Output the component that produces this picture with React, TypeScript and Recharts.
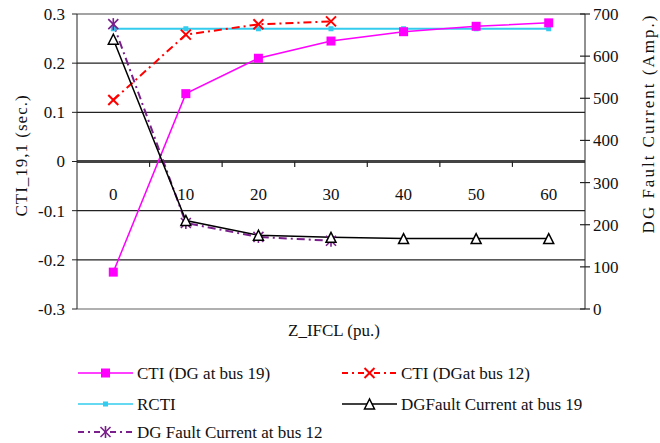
import React from "react";
import {
  LineChart,
  Line,
  XAxis,
  YAxis,
  CartesianGrid,
  ReferenceLine,
  ReferenceDot,
} from "recharts";

const zValues = [0, 10, 20, 30, 40, 50, 60];
const cti19 = [-0.225, 0.138, 0.21, 0.245, 0.264, 0.275, 0.282];
const cti12 = [0.125, 0.258, 0.279, 0.285];
const rcti = [0.27, 0.27, 0.27, 0.27, 0.27, 0.27, 0.27];
const dgFault19 = [640, 210, 175, 170, 167, 167, 167];
const dgFault12 = [676, 204, 171, 162];
const leftTicks = [-0.3, -0.2, -0.1, 0, 0.1, 0.2, 0.3];
const rightTicks = [0, 100, 200, 300, 400, 500, 600, 700];
const bandEdges = [5, 15, 25, 35, 45, 55];

const data = zValues.map((z, i) => ({
  z,
  cti19: cti19[i],
  cti12: cti12[i],
  rcti: rcti[i],
  dg19: dgFault19[i],
  dg12: dgFault12[i],
}));

const FONT = "Liberation Serif";
const TXT = "#111";

const MAGENTA = "#ff00ff";
const RED = "#ff0000";
const CYAN = "#33ccee";
const BLACK = "#000";
const PURPLE = "#7a1f8c";

const textStyle = { fontFamily: FONT, fontSize: 17 };

const squareDot = (size: number, color: string) => (p: any) => {
  if (p.cy == null || p.value == null) return <g key={p.key} />;
  return (
    <rect
      key={p.key}
      x={p.cx - size / 2}
      y={p.cy - size / 2}
      width={size}
      height={size}
      fill={color}
    />
  );
};

const crossDot = (p: any) => {
  if (p.cy == null || p.value == null) return <g key={p.key} />;
  const s = 5;
  return (
    <g key={p.key} stroke={RED} strokeWidth={2}>
      <line x1={p.cx - s} y1={p.cy - s} x2={p.cx + s} y2={p.cy + s} />
      <line x1={p.cx - s} y1={p.cy + s} x2={p.cx + s} y2={p.cy - s} />
    </g>
  );
};

const triangleDot = (p: any) => {
  if (p.cy == null || p.value == null) return <g key={p.key} />;
  const s = 5;
  return (
    <polygon
      key={p.key}
      points={`${p.cx},${p.cy - s} ${p.cx - s},${p.cy + s} ${p.cx + s},${p.cy + s}`}
      fill="#fff"
      stroke={BLACK}
      strokeWidth={1.5}
    />
  );
};

const starDot = (p: any) => {
  if (p.cy == null || p.value == null) return <g key={p.key} />;
  const s = 5;
  return (
    <g key={p.key} stroke={PURPLE} strokeWidth={1.6}>
      <line x1={p.cx - s} y1={p.cy - s} x2={p.cx + s} y2={p.cy + s} />
      <line x1={p.cx - s} y1={p.cy + s} x2={p.cx + s} y2={p.cy - s} />
      <line x1={p.cx} y1={p.cy - s - 1} x2={p.cx} y2={p.cy + s + 1} />
    </g>
  );
};

const LeftTick = (p: any) => (
  <text x={p.x} y={p.y} dy="0.35em" textAnchor="end" fill={TXT} style={textStyle}>
    {String(p.payload.value)}
  </text>
);

const RightTick = (p: any) => (
  <g>
    <line x1={p.x - 13} y1={p.y} x2={p.x - 3} y2={p.y} stroke="#222" strokeWidth={1.2} />
    <text x={p.x} y={p.y} dy="0.35em" textAnchor="start" fill={TXT} style={textStyle}>
      {p.payload.value}
    </text>
  </g>
);

// axis title drawn inside the axis viewBox
const AxisTitle = (p: any) => {
  const vb = p.viewBox;
  const cx = vb.x + vb.width / 2 + (p.dx || 0);
  const cy = vb.y + vb.height / 2 + (p.dy || 0);
  const rot = p.rotate ? `rotate(-90 ${cx} ${cy})` : undefined;
  return (
    <text
      x={cx}
      y={cy}
      textAnchor="middle"
      dominantBaseline="central"
      transform={rot}
      fill={TXT}
      style={{ ...textStyle, letterSpacing: p.spacing || 0 }}
    >
      {p.text}
    </text>
  );
};

const XLabel = (p: any) => {
  const vb = p.viewBox;
  return (
    <text
      x={vb.x + vb.width / 2 + 3}
      y={vb.y + vb.height / 2 + 4}
      textAnchor="middle"
      dominantBaseline="central"
      fill={TXT}
      style={textStyle}
    >
      {p.text}
    </text>
  );
};

const legendItems = [
  { name: "CTI (DG at bus 19)", color: MAGENTA, dash: undefined, marker: "square", x: 78, w: 55, y: 373 },
  { name: "CTI (DGat bus 12)", color: RED, dash: "6 4 2 4", marker: "cross", x: 342, w: 55, y: 373 },
  { name: "RCTI", color: CYAN, dash: undefined, marker: "small", x: 78, w: 55, y: 404 },
  { name: "DGFault Current at bus 19", color: BLACK, dash: undefined, marker: "triangle", x: 342, w: 55, y: 404 },
  { name: "DG Fault Current at bus 12", color: PURPLE, dash: "6 4 2 4", marker: "star", x: 78, w: 55, y: 432 },
];

const legendMarker = (m: string, cx: number, cy: number) => {
  const p = { cx, cy, key: "m", value: 1 };
  if (m === "square") return squareDot(9, MAGENTA)(p);
  if (m === "small") return squareDot(5, CYAN)(p);
  if (m === "cross") return crossDot(p);
  if (m === "triangle") return triangleDot(p);
  return starDot(p);
};

export default function App() {
  return (
    <div style={{ position: "absolute", left: 0, top: 0, width: 660, height: 443, background: "#fff" }}>
      <LineChart
        width={660}
        height={343}
        data={data}
        margin={{ top: 14, right: 0, bottom: 0, left: 0 }}
      >
        <CartesianGrid horizontal vertical={false} stroke="#222" strokeWidth={1.2} yAxisId="left" />
        <XAxis
          dataKey="z"
          type="number"
          domain={[-5, 65]}
          ticks={zValues}
          tick={false}
          tickLine={false}
          axisLine={false}
          height={34}
          label={<XLabel text="Z_IFCL (pu.)" />}
        />
        <YAxis
          yAxisId="left"
          domain={[-0.3, 0.3]}
          ticks={leftTicks}
          width={77}
          tickSize={5}
          tickMargin={7}
          stroke="#222"
          tick={<LeftTick />}
          label={<AxisTitle text="CTI_19,1 (sec.)" rotate dx={-17} dy={-6} spacing={1} />}
        />
        <YAxis
          yAxisId="right"
          orientation="right"
          domain={[0, 700]}
          ticks={rightTicks}
          width={75}
          tickSize={0}
          tickMargin={8}
          tickLine={false}
          stroke="#222"
          tick={<RightTick />}
          label={<AxisTitle text="DG Fault Current (Amp.)" rotate dx={26} dy={-38} spacing={2} />}
        />
        <ReferenceLine yAxisId="left" y={0.3} stroke="#aaa" strokeWidth={1.5} />
        <ReferenceLine yAxisId="left" y={-0.3} stroke="#bbb" strokeWidth={1.5} />
        <ReferenceLine yAxisId="left" y={0} stroke="#444" strokeWidth={3} />
        {bandEdges.map((b) => (
          <ReferenceLine
            key={b}
            yAxisId="left"
            segment={[
              { x: b, y: 0 },
              { x: b, y: -0.011 },
            ]}
            stroke="#222"
            strokeWidth={1.2}
          />
        ))}
        {zValues.map((z) => (
          <ReferenceDot
            key={"lbl" + z}
            yAxisId="left"
            x={z}
            y={-0.068}
            r={0}
            fill="none"
            stroke="none"
            label={(lp: any) => (
              <text
                x={lp.viewBox.x + (lp.viewBox.width || 0) / 2}
                y={lp.viewBox.y + (lp.viewBox.height || 0) / 2}
                textAnchor="middle"
                dominantBaseline="central"
                fill={TXT}
                style={textStyle}
              >
                {String(z)}
              </text>
            )}
          />
        ))}
        <Line
          yAxisId="left"
          dataKey="rcti"
          stroke={CYAN}
          strokeWidth={2}
          dot={squareDot(5, CYAN)}
          isAnimationActive={false}
        />
        <Line
          yAxisId="left"
          dataKey="cti19"
          stroke={MAGENTA}
          strokeWidth={1.5}
          dot={squareDot(9, MAGENTA)}
          isAnimationActive={false}
        />
        <Line
          yAxisId="left"
          dataKey="cti12"
          stroke={RED}
          strokeWidth={2}
          strokeDasharray="8 4 2 4"
          dot={crossDot}
          isAnimationActive={false}
        />
        <Line
          yAxisId="right"
          dataKey="dg12"
          stroke={PURPLE}
          strokeWidth={2}
          strokeDasharray="8 4 2 4"
          dot={starDot}
          isAnimationActive={false}
        />
        <Line
          yAxisId="right"
          dataKey="dg19"
          stroke={BLACK}
          strokeWidth={1.5}
          dot={triangleDot}
          isAnimationActive={false}
        />
      </LineChart>
      <svg width={660} height={100} style={{ position: "absolute", left: 0, top: 343 }}>
        {legendItems.map((it) => {
          const cy = it.y - 343;
          return (
            <g key={it.name}>
              <line
                x1={it.x}
                x2={it.x + it.w}
                y1={cy}
                y2={cy}
                stroke={it.color}
                strokeWidth={it.dash ? 2 : 1.5}
                strokeDasharray={it.dash}
              />
              {legendMarker(it.marker, it.x + it.w / 2, cy)}
              <text x={it.x + it.w + 4} y={cy} dy="0.35em" fill={TXT} style={textStyle}>
                {it.name}
              </text>
            </g>
          );
        })}
      </svg>
    </div>
  );
}
